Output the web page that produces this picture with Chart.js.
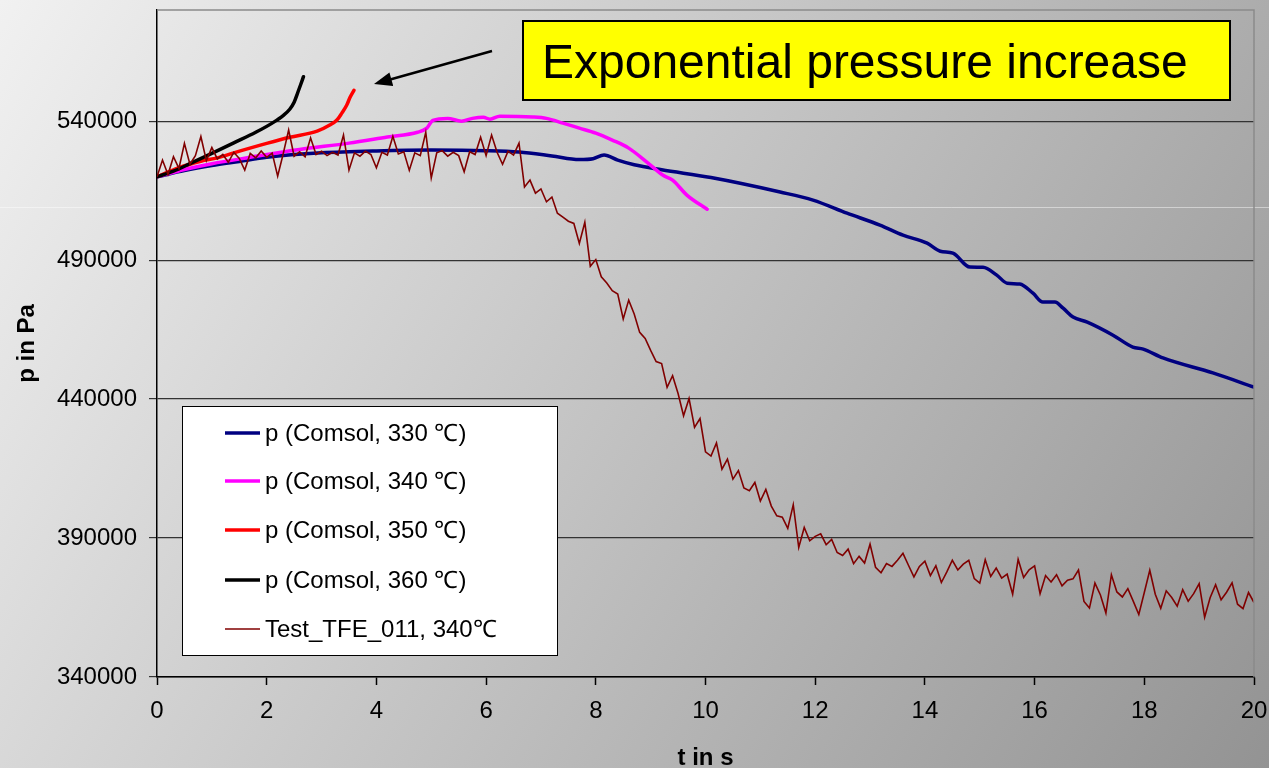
<!DOCTYPE html>
<html>
<head>
<meta charset="utf-8">
<script src="https://cdn.jsdelivr.net/npm/chart.js@4.4.1/dist/chart.umd.min.js"></script>
<style>
  html, body { margin: 0; padding: 0; overflow: hidden; background: #c8c8c8; }
  #wrap { width: 1269px; height: 800px; }
</style>
</head>
<body>
<div id="wrap"><canvas id="pressureChart" width="1269" height="800"></canvas></div>
<script>
/* ---------------- Data ---------------- */

const seriesLabels = [
    "p (Comsol, 330 \u2103)",
    "p (Comsol, 340 \u2103)",
    "p (Comsol, 350 \u2103)",
    "p (Comsol, 360 \u2103)",
    "Test_TFE_011, 340\u2103"
];

const xTicks = [0, 2, 4, 6, 8, 10, 12, 14, 16, 18, 20];
const yTicks = [340000, 390000, 440000, 490000, 540000];

// Comsol 330 °C
const t330 = [0, 0.5, 1, 1.5, 2, 3, 4, 5, 6, 6.6, 7.2, 7.7, 7.95, 8.15, 8.4, 8.7, 9.2, 10.1,
    11.36, 11.96, 12.58, 13.18, 13.6, 14.04, 14.28, 14.51, 14.82, 15.06, 15.31, 15.5, 15.73,
    15.97, 16.15, 16.37, 16.52, 16.7, 16.96, 17.43, 17.79, 17.98, 18.34, 19.25, 20];
const p330 = [520000, 522200, 524000, 525500, 527000, 528600, 529300, 529600, 529400, 528900,
    527500, 526200, 526500, 527800, 526000, 524300, 522500, 519700, 514500, 511600, 506900,
    502600, 499000, 496100, 493200, 492500, 487500, 487400, 484600, 481700, 481400, 478100,
    474900, 474900, 472700, 469500, 467700, 463000, 458700, 458000, 454800, 449400, 444300];

// Comsol 340 °C
const t340 = [0, 0.5, 1, 1.7, 2.6, 3.5, 4.2, 4.75, 4.92, 5.03, 5.3, 5.55, 5.75, 5.95, 6.07,
    6.25, 6.85, 7.1, 7.4, 7.7, 8.0, 8.3, 8.6, 8.93, 9.22, 9.4, 9.66, 10.03];
const p340 = [520000, 522600, 524700, 527000, 529800, 532100, 534300, 536000, 537500, 540300,
    541000, 540000, 541000, 541400, 540700, 541800, 541500, 541000, 539300, 537500, 535700,
    533200, 530300, 525300, 520600, 518800, 513400, 508300];

// Comsol 350 °C
const t350 = [0, 0.4, 0.8, 1.1, 1.4, 2.0, 2.42, 2.92, 3.15, 3.28, 3.37, 3.46, 3.52, 3.59];
const p350 = [520000, 523300, 525600, 526800, 528600, 532000, 534200, 536400, 538600, 540400,
    542900, 545800, 548600, 551100];

// Comsol 360 °C
const t360 = [0, 0.3, 0.6, 1.0, 1.4, 1.8, 2.1, 2.3, 2.42, 2.5, 2.57, 2.62, 2.67];
const p360 = [520000, 522000, 524700, 528400, 532200, 536000, 539300, 542000, 544300, 546800,
    550500, 553200, 556000];

// Test_TFE_011 measurement
const tTest = [
    0, 0.1, 0.2, 0.3, 0.4, 0.5, 0.6, 0.7, 0.8, 0.9,
    1, 1.1, 1.2, 1.3, 1.4, 1.5, 1.6, 1.7, 1.8, 1.9,
    2, 2.1, 2.2, 2.3, 2.4, 2.5, 2.6, 2.7, 2.8, 2.9,
    3, 3.1, 3.2, 3.3, 3.4, 3.5, 3.6, 3.7, 3.8, 3.9,
    4, 4.1, 4.2, 4.3, 4.4, 4.5, 4.6, 4.7, 4.8, 4.9,
    5, 5.1, 5.2, 5.3, 5.4, 5.5, 5.6, 5.7, 5.8, 5.9,
    6, 6.1, 6.2, 6.3, 6.4, 6.5, 6.6, 6.7, 6.8, 6.9,
    7, 7.1, 7.2, 7.3, 7.4, 7.5, 7.6, 7.7, 7.8, 7.9,
    8, 8.1, 8.2, 8.3, 8.4, 8.5, 8.6, 8.7, 8.8, 8.9,
    9, 9.1, 9.2, 9.3, 9.4, 9.5, 9.6, 9.7, 9.8, 9.9,
    10, 10.1, 10.2, 10.3, 10.4, 10.5, 10.6, 10.7, 10.8, 10.9,
    11, 11.1, 11.2, 11.3, 11.4, 11.5, 11.6, 11.7, 11.8, 11.9,
    12, 12.1, 12.2, 12.3, 12.4, 12.5, 12.6, 12.7, 12.8, 12.9,
    13, 13.1, 13.2, 13.3, 13.4, 13.5, 13.6, 13.7, 13.8, 13.9,
    14, 14.1, 14.2, 14.3, 14.4, 14.5, 14.6, 14.7, 14.8, 14.9,
    15, 15.1, 15.2, 15.3, 15.4, 15.5, 15.6, 15.7, 15.8, 15.9,
    16, 16.1, 16.2, 16.3, 16.4, 16.5, 16.6, 16.7, 16.8, 16.9,
    17, 17.1, 17.2, 17.3, 17.4, 17.5, 17.6, 17.7, 17.8, 17.9,
    18, 18.1, 18.2, 18.3, 18.4, 18.5, 18.6, 18.7, 18.8, 18.9,
    19, 19.1, 19.2, 19.3, 19.4, 19.5, 19.6, 19.7, 19.8, 19.9,
    20
];
const pTest = [
    520000, 526000, 520800, 527200, 523000, 532000, 524500, 527600, 534500, 525800,
    530500, 526400, 528000, 525200, 528800, 526600, 522400, 528400, 526800, 529300,
    527000, 528500, 520200, 528200, 536800, 527400, 529000, 527200, 534000, 528000,
    529200, 527600, 528800, 527800, 535000, 522400, 528600, 527400, 529200, 528000,
    523200, 528800, 527800, 534600, 528200, 529000, 522300, 528600, 527600, 536000,
    519600, 528600, 529400, 527400, 528800, 527600, 521800, 529000, 528000, 534200,
    527600, 535000, 528800, 524500, 529200, 527800, 532100, 516300, 518800, 514100,
    515600, 511000, 512700, 506900, 505500, 504000, 503200, 496000, 503600, 487800,
    490200, 484000, 481800, 479000, 477800, 468800, 475600, 470600, 464000, 461800,
    457500, 453500, 452800, 444200, 448400, 442000, 434000, 440200, 429800, 433000,
    421000, 419500, 424200, 414800, 418400, 411200, 414300, 408000, 407000, 410000,
    403300, 407500, 401500, 398000, 397500, 393500, 402000, 386600, 393800, 389000,
    390600, 391500, 387600, 389500, 384800, 383700, 386000, 380800, 383400, 381000,
    387800, 379500, 377500, 380800, 379800, 382000, 384500, 380200, 376000, 379800,
    381700, 376500, 380000, 374000, 377800, 382000, 378500, 380600, 382000, 375400,
    373800, 382200, 376200, 379200, 375600, 377000, 369800, 382300, 375800, 378600,
    380000, 370000, 376500, 374200, 376800, 372800, 374800, 375300, 378500, 367200,
    364800, 373800, 369500, 363000, 376800, 370600, 368800, 371800, 367200, 362500,
    370400, 378400, 369800, 364700, 371000, 368600, 365500, 371400, 367300, 370000,
    373600, 361500, 368500, 373200, 367800, 370500, 373900, 366200, 364600, 370400,
    366800
];

/* ---------------- Helpers ---------------- */

const FONT = "'Liberation Sans', Arial, sans-serif";

function toPoints(ts, ps) {
    return ts.map((t, i) => ({ x: t, y: ps[i] }));
}

/* ---------------- Plugins ---------------- */

// slide-style gradient background
const backdrop = {
    id: "backdrop",
    beforeDraw(chart) {
        const ctx = chart.ctx;
        const g = ctx.createLinearGradient(0, 0, 1269, 768);
        g.addColorStop(0, "#f1f1f1");
        g.addColorStop(1, "#939393");
        ctx.save();
        ctx.fillStyle = g;
        ctx.fillRect(0, 0, chart.width, chart.height);
        ctx.strokeStyle = "rgba(255,255,255,0.45)";
        ctx.lineWidth = 1;
        ctx.beginPath();
        ctx.moveTo(0, 207.5);
        ctx.lineTo(chart.width, 207.5);
        ctx.stroke();
        ctx.restore();
    }
};

// top / right frame, legend box, callout
const overlay = {
    id: "overlay",
    afterDraw(chart) {
        const ctx = chart.ctx;
        const a = chart.chartArea;
        ctx.save();

        ctx.strokeStyle = "#8a8a8a";
        ctx.lineWidth = 1.5;
        ctx.beginPath();
        ctx.moveTo(a.left, a.top);
        ctx.lineTo(a.right, a.top);
        ctx.lineTo(a.right, a.bottom);
        ctx.stroke();

        // legend
        ctx.fillStyle = "#ffffff";
        ctx.fillRect(182, 406, 375, 249);
        ctx.strokeStyle = "#000";
        ctx.lineWidth = 1;
        ctx.strokeRect(182.5, 406.5, 375, 249);
        const rows = [433, 481, 530, 580, 629];
        ctx.font = "24px " + FONT;
        ctx.textBaseline = "middle";
        ctx.textAlign = "left";
        chart.data.datasets.forEach((ds, i) => {
            ctx.strokeStyle = ds.borderColor;
            ctx.lineWidth = ds.borderWidth;
            ctx.beginPath();
            ctx.moveTo(225, rows[i]);
            ctx.lineTo(260, rows[i]);
            ctx.stroke();
            ctx.fillStyle = "#000";
            ctx.fillText(ds.label, 265, rows[i] + 1);
        });

        // callout box
        ctx.fillStyle = "#ffff00";
        ctx.fillRect(523, 21, 707, 79);
        ctx.strokeStyle = "#000";
        ctx.lineWidth = 2;
        ctx.strokeRect(523, 21, 707, 79);
        ctx.fillStyle = "#000";
        ctx.font = "48px " + FONT;
        ctx.textBaseline = "alphabetic";
        ctx.fillText("Exponential pressure increase", 542, 78);

        // arrow
        const x0 = 492, y0 = 51, x1 = 374, y1 = 84;
        const ang = Math.atan2(y1 - y0, x1 - x0);
        ctx.lineWidth = 2.5;
        ctx.beginPath();
        ctx.moveTo(x0, y0);
        ctx.lineTo(x1 - 14 * Math.cos(ang), y1 - 14 * Math.sin(ang));
        ctx.stroke();
        ctx.beginPath();
        ctx.moveTo(x1, y1);
        ctx.lineTo(x1 - 18 * Math.cos(ang) + 7 * Math.sin(ang), y1 - 18 * Math.sin(ang) - 7 * Math.cos(ang));
        ctx.lineTo(x1 - 18 * Math.cos(ang) - 7 * Math.sin(ang), y1 - 18 * Math.sin(ang) + 7 * Math.cos(ang));
        ctx.closePath();
        ctx.fill();

        ctx.restore();
    }
};

/* ---------------- Chart ---------------- */

const comsolLine = (label, color, ts, ps, order) => ({
    label,
    data: toPoints(ts, ps),
    borderColor: color,
    backgroundColor: color,
    borderWidth: 3.5,
    pointRadius: 0,
    cubicInterpolationMode: "monotone",
    borderCapStyle: "round",
    order
});

new Chart(document.getElementById("pressureChart"), {
    type: "line",
    data: {
        datasets: [
            comsolLine(seriesLabels[0], "#000080", t330, p330, 5),
            comsolLine(seriesLabels[1], "#ff00ff", t340, p340, 4),
            comsolLine(seriesLabels[2], "#ff0000", t350, p350, 3),
            comsolLine(seriesLabels[3], "#000000", t360, p360, 2),
            {
                label: seriesLabels[4],
                data: toPoints(tTest, pTest),
                borderColor: "#800000",
                backgroundColor: "#800000",
                borderWidth: 1.6,
                pointRadius: 0,
                tension: 0,
                order: 1
            }
        ]
    },
    options: {
        responsive: false,
        animation: false,
        devicePixelRatio: 1,
        layout: { padding: { top: 10, right: 15, left: 0, bottom: 0 } },
        plugins: {
            legend: { display: false },
            tooltip: { enabled: false }
        },
        scales: {
            x: {
                type: "linear",
                min: 0,
                max: 20,
                afterBuildTicks: s => { s.ticks = xTicks.map(v => ({ value: v })); },
                afterFit: s => {
                    s.height = 123;
                    s.paddingLeft = 0;
                    s.paddingRight = 0;
                },
                ticks: {
                    color: "#000",
                    font: { family: FONT, size: 24 },
                    padding: 12,
                    maxRotation: 0,
                    autoSkip: false
                },
                grid: {
                    drawOnChartArea: false,
                    drawTicks: true,
                    tickLength: 8,
                    tickColor: "#000",
                    tickWidth: 1.5
                },
                border: { color: "#000", width: 1.5 },
                title: {
                    display: true,
                    text: "t in s",
                    color: "#000",
                    font: { family: FONT, size: 24, weight: "bold" },
                    padding: { top: 0, bottom: 27 }
                }
            },
            y: {
                type: "linear",
                min: 340000,
                max: 580000,
                afterBuildTicks: s => { s.ticks = yTicks.map(v => ({ value: v })); },
                afterFit: s => {
                    s.width = 157;
                    s.paddingTop = 0;
                    s.paddingBottom = 0;
                },
                ticks: {
                    color: "#000",
                    font: { family: FONT, size: 24 },
                    padding: 12,
                    callback: v => String(v)
                },
                grid: {
                    color: "#333333",
                    lineWidth: 1.2,
                    tickLength: 8,
                    tickColor: "#333333"
                },
                border: { color: "#000", width: 1.5 },
                title: {
                    display: true,
                    text: "p in Pa",
                    color: "#000",
                    font: { family: FONT, size: 24, weight: "bold" },
                    padding: { top: 13, bottom: 0 }
                }
            }
        }
    },
    plugins: [backdrop, overlay]
});
</script>
</body>
</html>
